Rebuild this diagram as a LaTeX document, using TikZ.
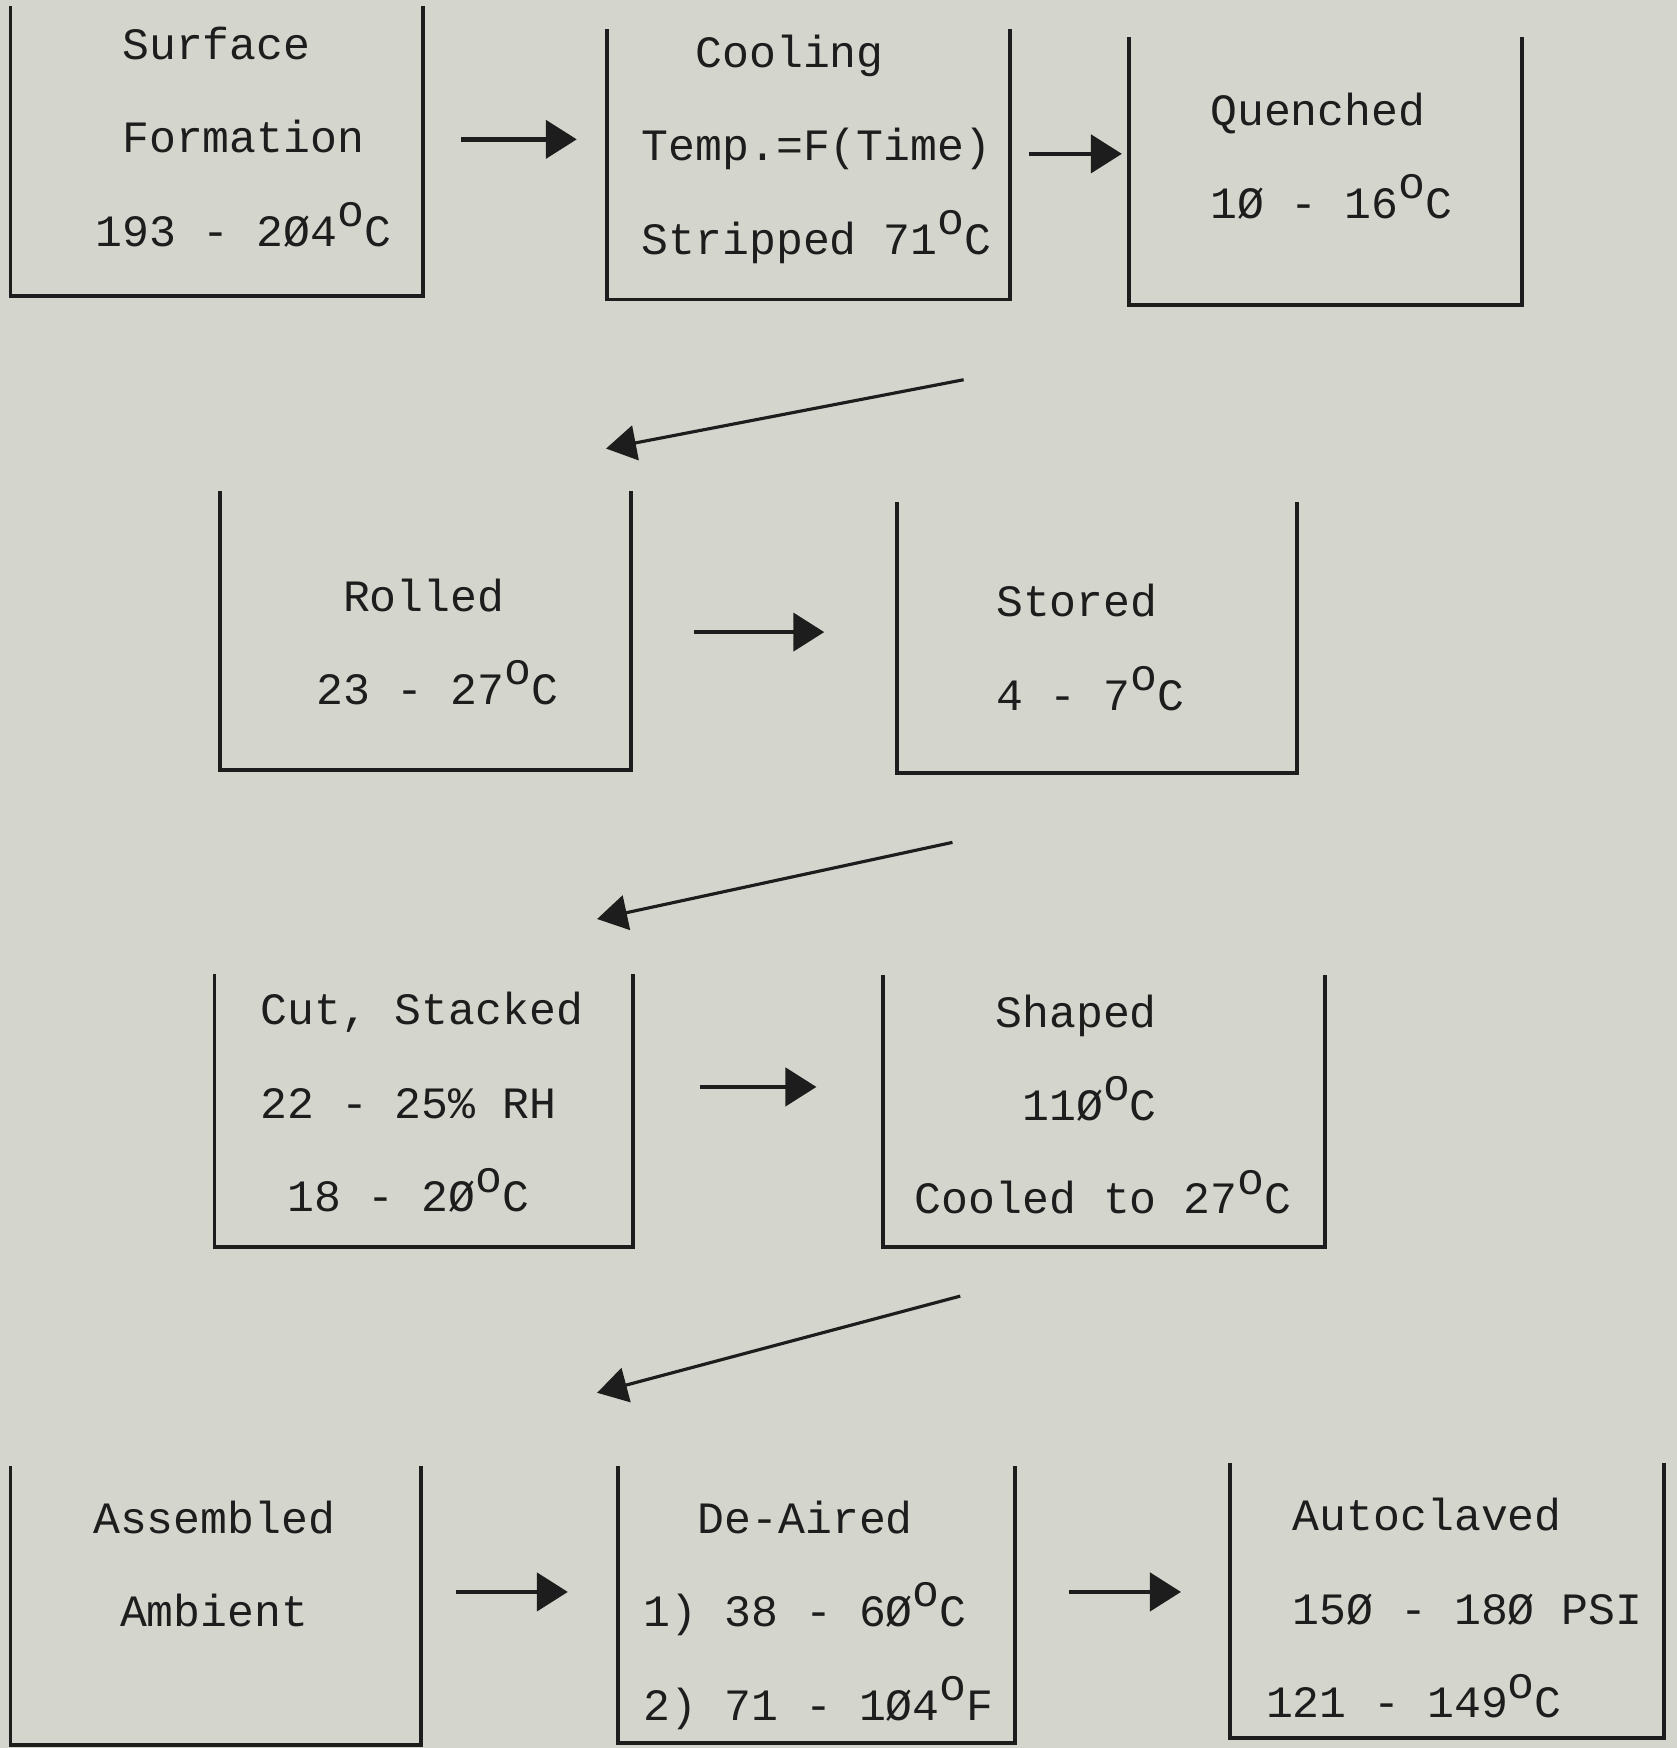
\documentclass[tikz,border=0pt]{standalone}
\usepackage{fontspec}
\usepackage{xcolor}
\usetikzlibrary{arrows.meta, fit}
\newfontfamily\typer{Liberation Mono}
\definecolor{paper}{RGB}{212,214,205}
\definecolor{ink}{RGB}{30,29,29}
% raised o as typed for degrees, one character cell wide
\newcommand{\dgr}{\raisebox{0.44em}{o}}
% indent a line by #1 typewriter cells
\newcommand{\ind}[1]{\hspace*{#1\dimexpr0.6em\relax}}
\tikzset{
  tray/.style={rectangle, draw=none, inner sep=0pt},
  rule/.style={draw=ink, line width=1.1pt},
  txt/.style={font=\typer\fontsize{12.75}{26.6}\selectfont, text=ink,
    align=left, anchor=north west, inner sep=0pt},
  flow/.style={-{Triangle[length=3.1mm, width=3.8mm]}, draw=ink, line width=1.3pt},
  back/.style={-{Triangle[length=3.0mm, width=3.5mm]}, draw=ink, line width=0.9pt}
}

\begin{document}
\begin{tikzpicture}[x=0.1115mm, y=-0.1115mm]
  \useasboundingbox (0,0) rectangle (1504,1568);
  \fill[paper] (0,0) rectangle (1504,1568);

  % trays (open at the top)
  \node[tray, fit={(10,6) (379,265)}] (surf) {};
  \node[tray, fit={(545,27) (905,268)}] (cool) {};
  \node[tray, fit={(1013,34) (1365,273)}] (quen) {};
  \node[tray, fit={(198,441) (565,690)}] (roll) {};
  \node[tray, fit={(805,451) (1163,693)}] (stor) {};
  \node[tray, fit={(193,874) (567,1118)}] (cut) {};
  \node[tray, fit={(793,875) (1188,1118)}] (shap) {};
  \node[tray, fit={(10,1316) (377,1565)}] (asm) {};
  \node[tray, fit={(555,1316) (910,1563)}] (deair) {};
  \node[tray, fit={(1104,1313) (1492,1558)}] (auto) {};
  \foreach \b in {surf,cool,quen,roll,stor,cut,shap,asm,deair,auto}
    \draw[rule] (\b.north west) |- (\b.south east) -- (\b.north east);

  % typed text
  \node[txt] (surftx) at (85,23.5)
    {\ind{1}Surface\\\ind{1}Formation\\193 - 2Ø4\dgr C};
  \node[txt] (cooltx) at (575,30.5)
    {\ind{2}Cooling\\Temp.=F(Time)\\Stripped 71\dgr C};
  \node[txt] (quentx) at (1085,82.5)
    {Quenched\\1Ø - 16\dgr C};
  \node[txt] (rolltx) at (283,518.5)
    {\ind{1}Rolled\\23 - 27\dgr C};
  \node[txt] (stortx) at (893,523.5)
    {Stored\\4 - 7\dgr C};
  \node[txt] (cuttx) at (233,889.5)
    {Cut, Stacked\\22 - 25\% RH\\\ind{1}18 - 2Ø\dgr C};
  \node[txt] (shaptx) at (820,891.5)
    {\ind{3}Shaped\\\ind{4}11Ø\dgr C\\Cooled to 27\dgr C};
  \node[txt] (asmtx) at (83,1345.5)
    {Assembled\\\ind{1}Ambient};
  \node[txt] (deairtx) at (577,1345.5)
    {\ind{2}De-Aired\\1) 38 - 6Ø\dgr C\\2) 71 - 1Ø4\dgr F};
  \node[txt] (autotx) at (1135,1343.5)
    {\ind{1}Autoclaved\\\ind{1}15Ø - 18Ø PSI\\121 - 149\dgr C};

  % arrows along a row
  \draw[flow] ([shift={(34,-10.5)}]surf.east) -- ([shift={(-27,-22.5)}]cool.west);
  \draw[flow] ([shift={(17,-9.5)}]cool.east) -- ([shift={(-6,-15.5)}]quen.west);
  \draw[flow] ([shift={(57,1.5)}]roll.east) -- ([shift={(-65,-5)}]stor.west);
  \draw[flow] ([shift={(60,-21)}]cut.east) -- ([shift={(-60,-21.5)}]shap.west);
  \draw[flow] ([shift={(31,-12.5)}]asm.east) -- ([shift={(-45,-11.5)}]deair.west);
  \draw[flow] ([shift={(48,-11.5)}]deair.east) -- ([shift={(-44,-7.5)}]auto.west);

  % back to the next row
  \draw[back] ([shift={(-148,67)}]quen.south west) -- ([shift={(-22,-38)}]roll.north east);
  \draw[back] ([shift={(50,62)}]stor.south west) -- ([shift={(-32,-49)}]cut.north east);
  \draw[back] ([shift={(69,44)}]shap.south west) -- ([shift={(158,-66)}]asm.north east);
\end{tikzpicture}
\end{document}
